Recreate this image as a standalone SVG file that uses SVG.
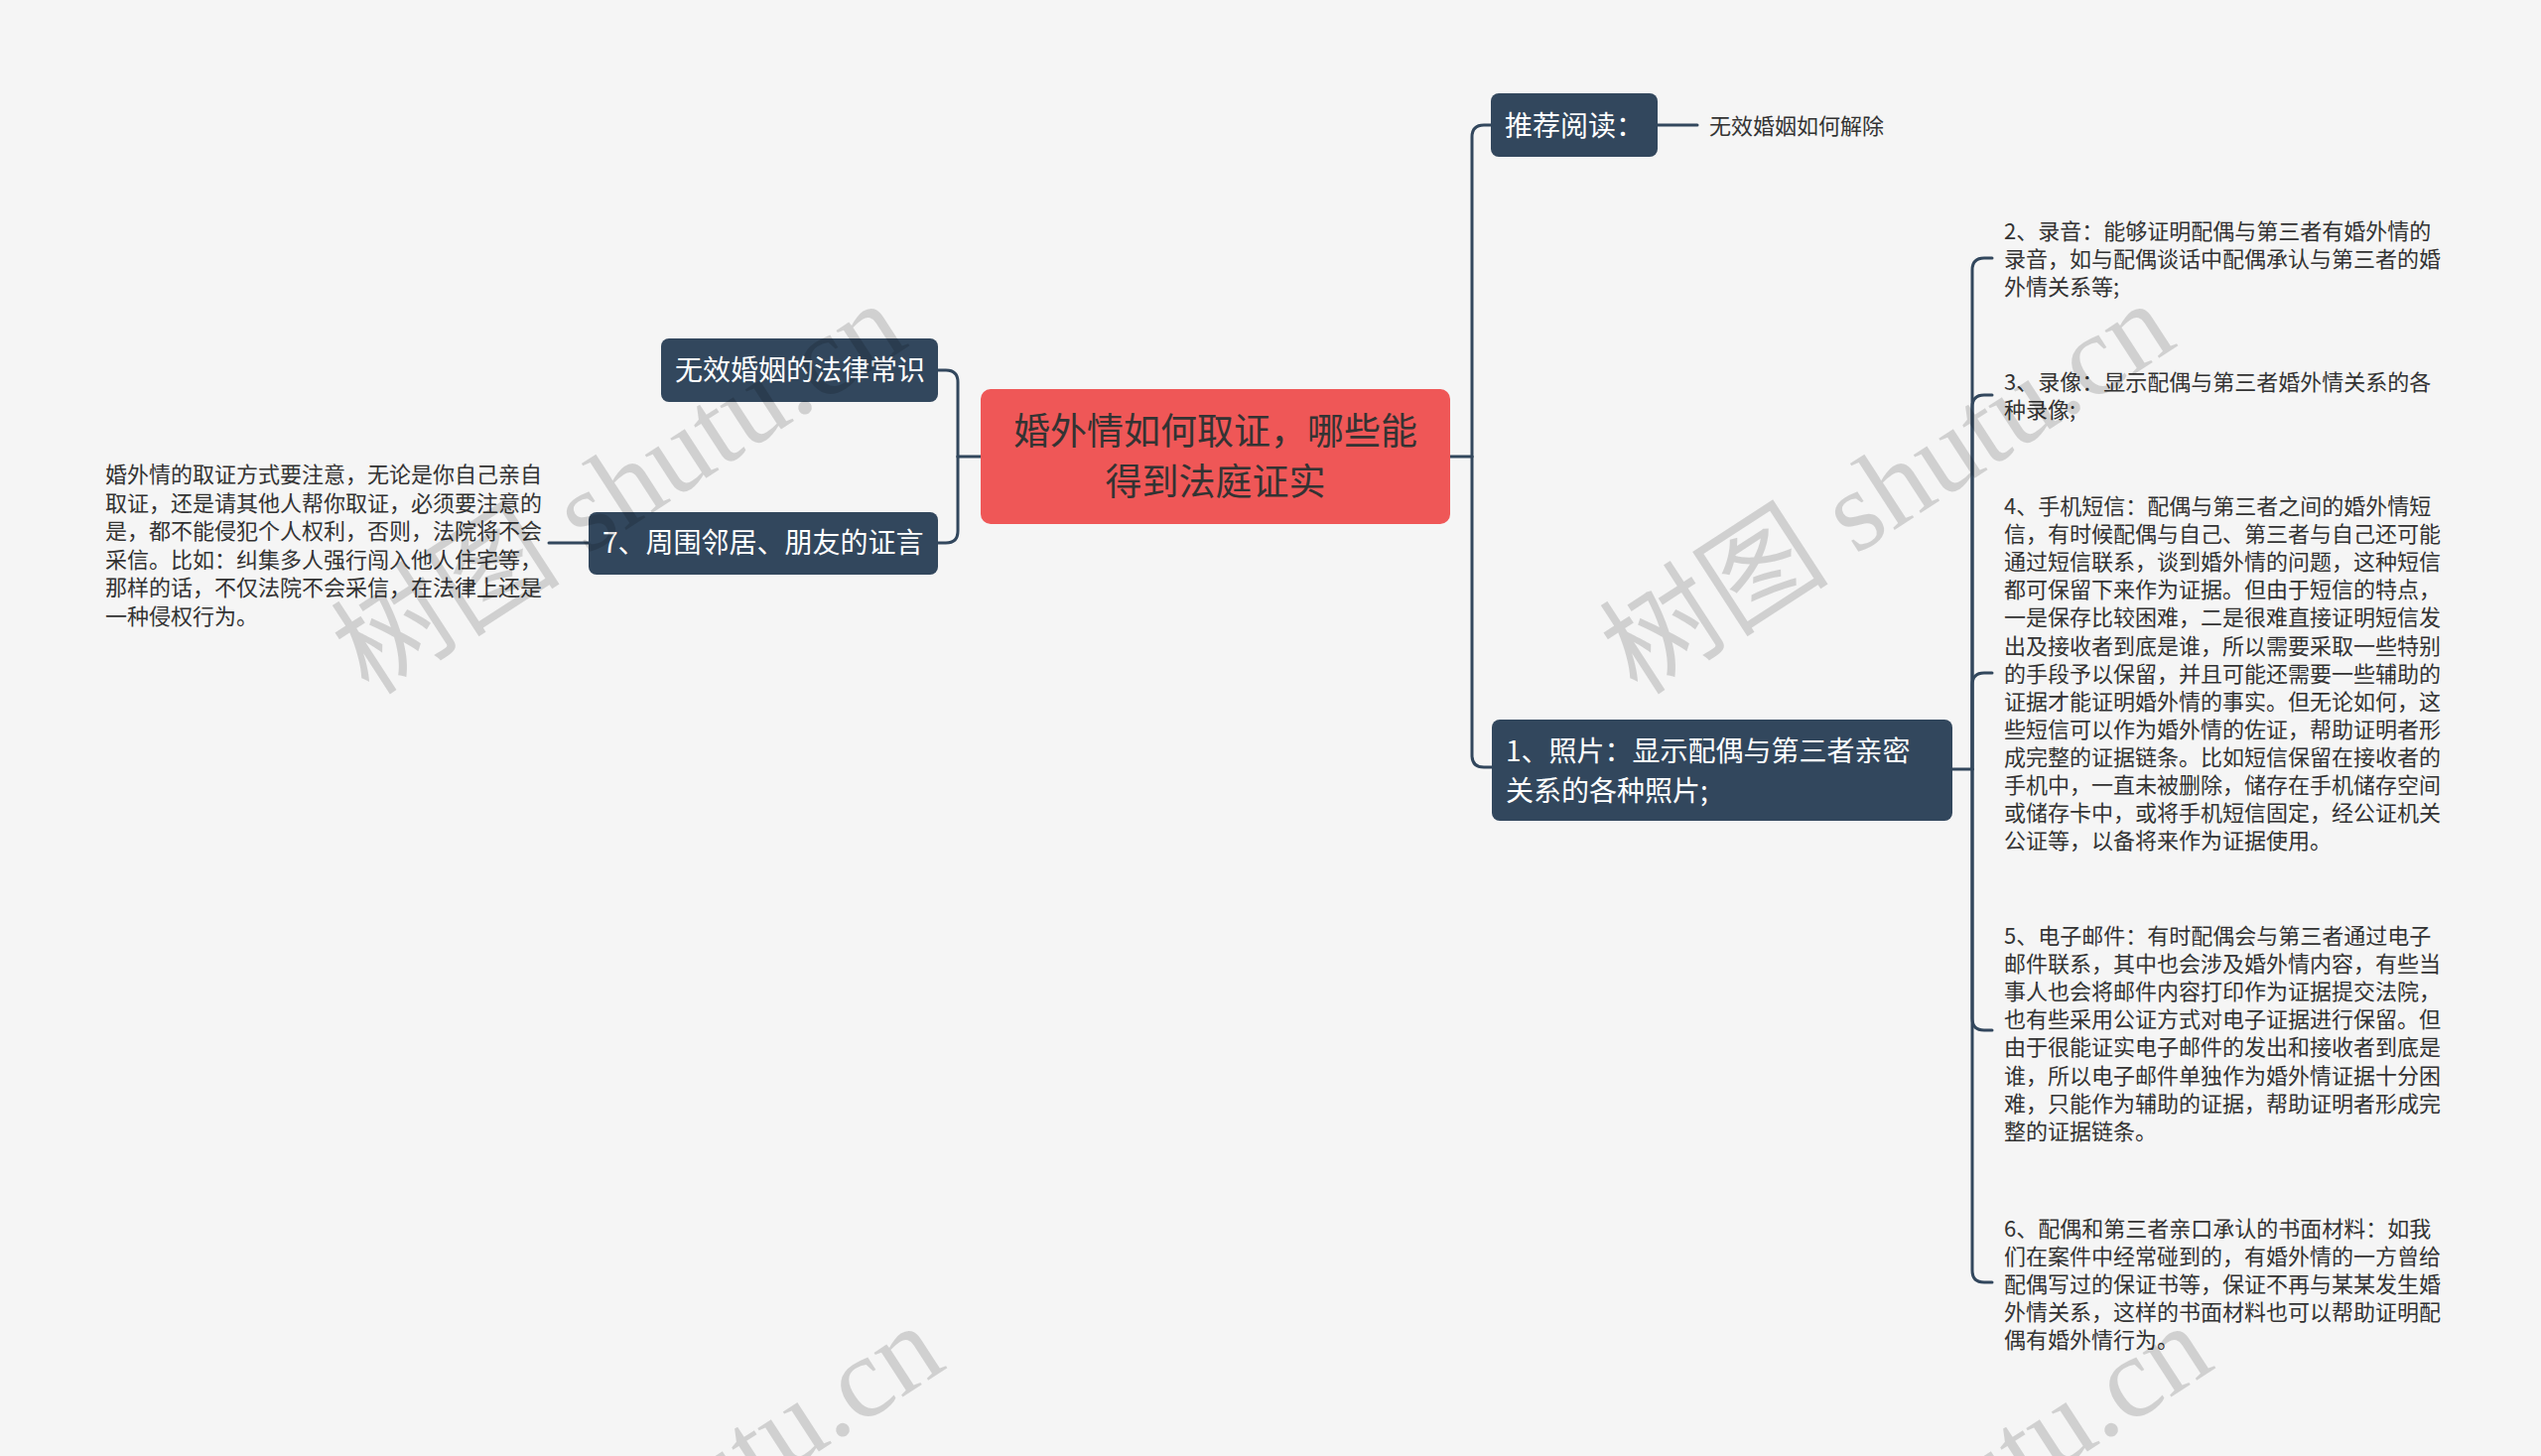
<svg xmlns="http://www.w3.org/2000/svg" width="2560" height="1467" viewBox="0 0 2560 1467">
<style>
text{font-family:"Noto Sans CJK SC","Noto Sans",sans-serif;}
.box{fill:#32475d;}
.bt{fill:#ffffff;font-size:28px;}
.leaf{fill:#333333;font-size:22px;}
.conn{fill:none;stroke:#32475d;stroke-width:3;stroke-linecap:round;}
.wm{font-family:"Liberation Serif","Noto Sans CJK SC",serif;font-size:116px;fill:#000000;fill-opacity:0.15;}
</style>
<rect x="0" y="0" width="2560" height="1467" fill="#f5f5f5"/>

<g id="connectors">
<path class="conn" d="M1461,460 H1483"/>
<path class="conn" d="M1483,460 V138 Q1483,126 1495,126 H1502"/>
<path class="conn" d="M1483,460 V761 Q1483,773 1495,773 H1503"/>
<path class="conn" d="M988,460 H965"/>
<path class="conn" d="M965,460 V385 Q965,373 953,373 H945"/>
<path class="conn" d="M965,460 V535 Q965,547 953,547 H945"/>
<path class="conn" d="M593,547 H553"/>
<path class="conn" d="M1670,126 H1710"/>
<path class="conn" d="M1967,775 H1987"/>
<path class="conn" d="M1987,775 V272 Q1987,260 1999,260 H2007"/>
<path class="conn" d="M1987,775 V410 Q1987,398 1999,398 H2007"/>
<path class="conn" d="M1987,775 V690 Q1987,678 1999,678 H2007"/>
<path class="conn" d="M1987,775 V1026 Q1987,1038 1999,1038 H2007"/>
<path class="conn" d="M1987,775 V1280 Q1987,1292 1999,1292 H2007"/>
</g>

<g id="root">
<rect x="988" y="392" width="473" height="136" rx="10" fill="#ef5757"/>
<text x="1224.5" y="448" text-anchor="middle" font-size="37" fill="#333333">婚外情如何取证，哪些能</text>
<text x="1224.5" y="499" text-anchor="middle" font-size="37" fill="#333333">得到法庭证实</text>
</g>

<g id="node-tuijian">
<rect class="box" x="1502" y="94" width="168" height="64" rx="8"/>
<text class="bt" x="1516" y="137">推荐阅读：</text>
</g>
<g id="leaf-tuijian">
<text class="leaf" x="1722" y="135">无效婚姻如何解除</text>
</g>

<g id="node-wuxiao">
<rect class="box" x="666" y="341" width="279" height="64" rx="8"/>
<text class="bt" x="680" y="383">无效婚姻的法律常识</text>
</g>

<g id="node-7">
<rect class="box" x="593" y="516" width="352" height="63" rx="8"/>
<text class="bt" x="607" y="557">7、周围邻居、朋友的证言</text>
</g>
<g id="leaf-7">
<text class="leaf" x="106" y="486">
<tspan x="106" dy="0">婚外情的取证方式要注意，无论是你自己亲自</tspan>
<tspan x="106" dy="28.6">取证，还是请其他人帮你取证，必须要注意的</tspan>
<tspan x="106" dy="28.6">是，都不能侵犯个人权利，否则，法院将不会</tspan>
<tspan x="106" dy="28.6">采信。比如：纠集多人强行闯入他人住宅等，</tspan>
<tspan x="106" dy="28.6">那样的话，不仅法院不会采信，在法律上还是</tspan>
<tspan x="106" dy="28.6">一种侵权行为。</tspan>
</text>
</g>

<g id="node-1">
<rect class="box" x="1503" y="725" width="464" height="102" rx="8"/>
<text class="bt" x="1517" y="767">1、照片：显示配偶与第三者亲密</text>
<text class="bt" x="1517" y="807">关系的各种照片;</text>
</g>

<g id="leaf-2">
<text class="leaf" x="2019" y="241">
<tspan x="2019" dy="0">2、录音：能够证明配偶与第三者有婚外情的</tspan>
<tspan x="2019" dy="28.2">录音，如与配偶谈话中配偶承认与第三者的婚</tspan>
<tspan x="2019" dy="28.2">外情关系等;</tspan>
</text>
</g>

<g id="leaf-3">
<text class="leaf" x="2019" y="393">
<tspan x="2019" dy="0">3、录像：显示配偶与第三者婚外情关系的各</tspan>
<tspan x="2019" dy="28.2">种录像;</tspan>
</text>
</g>

<g id="leaf-4">
<text class="leaf" x="2019" y="518">
<tspan x="2019" dy="0">4、手机短信：配偶与第三者之间的婚外情短</tspan>
<tspan x="2019" dy="28.1">信，有时候配偶与自己、第三者与自己还可能</tspan>
<tspan x="2019" dy="28.1">通过短信联系，谈到婚外情的问题，这种短信</tspan>
<tspan x="2019" dy="28.1">都可保留下来作为证据。但由于短信的特点，</tspan>
<tspan x="2019" dy="28.1">一是保存比较困难，二是很难直接证明短信发</tspan>
<tspan x="2019" dy="28.1">出及接收者到底是谁，所以需要采取一些特别</tspan>
<tspan x="2019" dy="28.1">的手段予以保留，并且可能还需要一些辅助的</tspan>
<tspan x="2019" dy="28.1">证据才能证明婚外情的事实。但无论如何，这</tspan>
<tspan x="2019" dy="28.1">些短信可以作为婚外情的佐证，帮助证明者形</tspan>
<tspan x="2019" dy="28.1">成完整的证据链条。比如短信保留在接收者的</tspan>
<tspan x="2019" dy="28.1">手机中，一直未被删除，储存在手机储存空间</tspan>
<tspan x="2019" dy="28.1">或储存卡中，或将手机短信固定，经公证机关</tspan>
<tspan x="2019" dy="28.1">公证等，以备将来作为证据使用。</tspan>
</text>
</g>

<g id="leaf-5">
<text class="leaf" x="2019" y="951">
<tspan x="2019" dy="0">5、电子邮件：有时配偶会与第三者通过电子</tspan>
<tspan x="2019" dy="28.1">邮件联系，其中也会涉及婚外情内容，有些当</tspan>
<tspan x="2019" dy="28.1">事人也会将邮件内容打印作为证据提交法院，</tspan>
<tspan x="2019" dy="28.1">也有些采用公证方式对电子证据进行保留。但</tspan>
<tspan x="2019" dy="28.1">由于很能证实电子邮件的发出和接收者到底是</tspan>
<tspan x="2019" dy="28.1">谁，所以电子邮件单独作为婚外情证据十分困</tspan>
<tspan x="2019" dy="28.1">难，只能作为辅助的证据，帮助证明者形成完</tspan>
<tspan x="2019" dy="28.1">整的证据链条。</tspan>
</text>
</g>

<g id="leaf-6">
<text class="leaf" x="2019" y="1246">
<tspan x="2019" dy="0">6、配偶和第三者亲口承认的书面材料：如我</tspan>
<tspan x="2019" dy="28.1">们在案件中经常碰到的，有婚外情的一方曾给</tspan>
<tspan x="2019" dy="28.1">配偶写过的保证书等，保证不再与某某发生婚</tspan>
<tspan x="2019" dy="28.1">外情关系，这样的书面材料也可以帮助证明配</tspan>
<tspan x="2019" dy="28.1">偶有婚外情行为。</tspan>
</text>
</g>

<g id="watermarks">
<text class="wm" transform="translate(372,702) rotate(-33)">树图 shutu.cn</text>
<text class="wm" transform="translate(1650,702) rotate(-33)">树图 shutu.cn</text>
<text class="wm" transform="translate(410,1732) rotate(-33)">树图 shutu.cn</text>
<text class="wm" transform="translate(1688,1732) rotate(-33)">树图 shutu.cn</text>
</g>
</svg>
